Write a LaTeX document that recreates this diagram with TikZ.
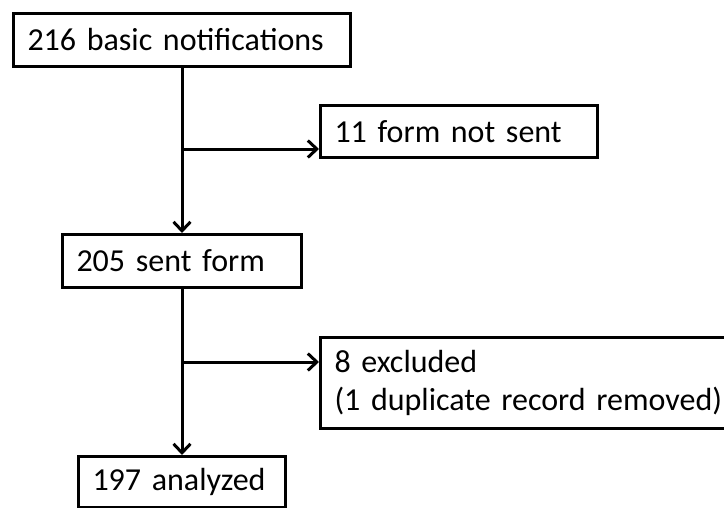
\documentclass[tikz,border=0pt]{standalone}
\usepackage{fontspec}
\setmainfont{Carlito}
\usetikzlibrary{arrows.meta, positioning}
\tikzset{
    >={Straight Barb[length=9pt,width=17pt]},
    flowbox/.style={draw, anchor=north west, align=left, inner xsep=14pt, inner ysep=0pt,
        font=\fontsize{32}{38}\selectfont}
}
\begin{document}
\begin{tikzpicture}[x=1pt, y=-1pt, line width=3pt]
    \useasboundingbox (0,0) rectangle (724,507);

    \node[flowbox, text width=309pt, minimum height=53pt] (notif) at (12,12) {216 basic notifications};
    \node[flowbox, text width=249pt, minimum height=52pt] (notsent) at (319,104) {11 form not sent};
    \node[flowbox, text width=211pt, minimum height=53pt] (sent) at (61,233) {205 sent form};
    \node[flowbox, text width=420pt, minimum height=91pt] (excl) at (319,336) {8 excluded\\(1 duplicate record removed)};
    \node[flowbox, text width=179pt, minimum height=51pt] (anal) at (77,455) {197 analyzed};

    \coordinate (j1) at (notif.south |- 0,149);
    \coordinate (j2) at (sent.south |- 0,362);

    \draw[->] (notif.south) -- (sent.north);
    \draw[->] (j1) -- (j1 -| notsent.west);
    \draw[->] (sent.south) -- (anal.north);
    \draw[->] (j2) -- (j2 -| excl.west);
\end{tikzpicture}
\end{document}
